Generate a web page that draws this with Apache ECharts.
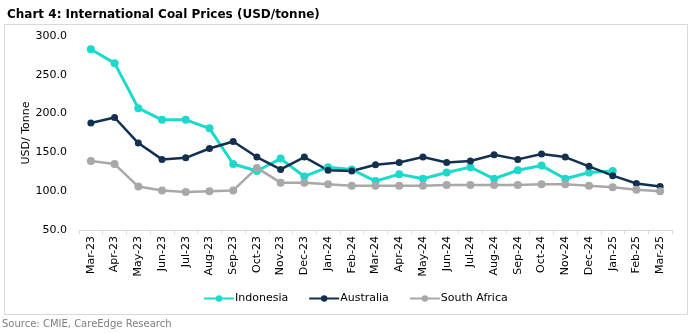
<!DOCTYPE html>
<html>
<head>
<meta charset="utf-8">
<script src="https://cdn.jsdelivr.net/npm/echarts@6/dist/echarts.min.js"></script>
<style>
  html, body { margin: 0; padding: 0; background: #fff; }
  #chart { width: 690px; height: 333px; }
</style>
</head>
<body>
<div id="chart"></div>
<script>
// Monthly coal prices, USD per tonne
const months = ['Mar-23', 'Apr-23', 'May-23', 'Jun-23', 'Jul-23', 'Aug-23', 'Sep-23', 'Oct-23',
  'Nov-23', 'Dec-23', 'Jan-24', 'Feb-24', 'Mar-24', 'Apr-24', 'May-24', 'Jun-24', 'Jul-24',
  'Aug-24', 'Sep-24', 'Oct-24', 'Nov-24', 'Dec-24', 'Jan-25', 'Feb-25', 'Mar-25'];
const indonesia = [283, 265, 207, 192, 192, 181, 135, 126, 142, 119, 131, 128, 113, 122, 116,
  124, 131, 116, 127, 133, 116, 124, 126, null, null];
const australia = [188, 195, 162, 141, 143, 155, 164, 144, 128, 144, 127, 126, 134, 137, 144,
  137, 139, 147, 141, 148, 144, 132, 120, 110, 106];
const southAfrica = [139, 135, 106, 101, 99, 100, 101, 130, 111, 111, 109, 107, 107, 107, 107,
  108, 108, 108, 108, 109, 109, 107, 105, 102, 100];
const yTicks = { min: 50, max: 300, step: 50 };

const FONT = 'DejaVu Sans';
const chart = echarts.init(document.getElementById('chart'), null, { renderer: 'canvas' });

function lineSeries(name, data, color, width, size) {
  return {
    name: name,
    type: 'line',
    data: data,
    symbol: 'circle',
    symbolSize: size,
    showSymbol: true,
    connectNulls: false,
    lineStyle: { color: color, width: width },
    itemStyle: { color: color },
    emphasis: { disabled: true }
  };
}

chart.setOption({
  animation: false,
  backgroundColor: '#ffffff',
  title: {
    text: 'Chart 4: International Coal Prices (USD/tonne)',
    left: 2, top: 4,
    textStyle: { fontFamily: FONT, fontSize: 12, fontWeight: 'bold', color: '#000' }
  },
  graphic: [
    {
      type: 'rect', left: 2, top: 22, silent: true, z: -1,
      shape: { width: 683, height: 290 },
      style: { fill: 'none', stroke: '#d9d9d9', lineWidth: 1 }
    },
    {
      type: 'text', left: 2, top: 319,
      style: { text: 'Source: CMIE, CareEdge Research', font: '10px "DejaVu Sans"', fill: '#7f7f7f' }
    }
  ],
  legend: {
    left: 198, top: 288,
    itemWidth: 30, itemHeight: 8, itemGap: 20,
    textStyle: { fontFamily: FONT, fontSize: 11, color: '#000', padding: [0, 0, 0, -4] },
    data: ['Indonesia', 'Australia', 'South Africa']
  },
  grid: { left: 79, right: 18, top: 36, bottom: 103, containLabel: false },
  xAxis: {
    type: 'category',
    data: months,
    boundaryGap: true,
    axisLine: { show: true, lineStyle: { color: '#d9d9d9', width: 1 } },
    axisTick: { show: true, alignWithLabel: false, length: 4, lineStyle: { color: '#d9d9d9' } },
    axisLabel: { rotate: 90, interval: 0, margin: 6, fontFamily: FONT, fontSize: 11, color: '#000' }
  },
  yAxis: {
    type: 'value',
    min: yTicks.min, max: yTicks.max, interval: yTicks.step,
    name: 'USD/ Tonne',
    nameLocation: 'middle',
    nameGap: 47,
    nameMoveOverlap: false,
    nameRotate: 90,
    nameTextStyle: { fontFamily: FONT, fontSize: 11, color: '#000' },
    axisLine: { show: false },
    axisTick: { show: false },
    splitLine: { show: false },
    axisLabel: {
      margin: 12, fontFamily: FONT, fontSize: 11, color: '#000',
      formatter: v => v.toFixed(1)
    }
  },
  series: [
    lineSeries('Indonesia', indonesia, '#1dd9cc', 3, 8),
    lineSeries('Australia', australia, '#13304e', 2.5, 7),
    lineSeries('South Africa', southAfrica, '#a8a8a8', 2.5, 8)
  ]
});
</script>
</body>
</html>
